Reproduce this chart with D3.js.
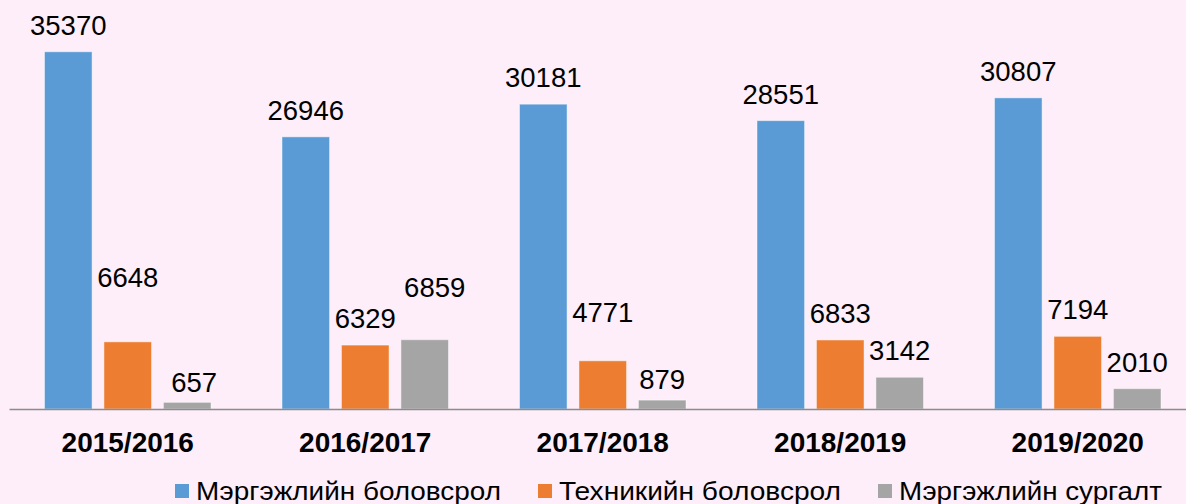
<!DOCTYPE html>
<html>
<head>
<meta charset="utf-8">
<script src="https://cdn.jsdelivr.net/npm/d3@7"></script>
<style>
  html, body { margin: 0; padding: 0; background: #fdeef9; }
  svg { display: block; }
</style>
</head>
<body>
<div id="chart"></div>
<script>
const years = ["2015/2016", "2016/2017", "2017/2018", "2018/2019", "2019/2020"];
const seriesNames = ["Мэргэжлийн боловсрол", "Техникийн боловсрол", "Мэргэжлийн сургалт"];
const mergejliinBolovsrol = [35370, 26946, 30181, 28551, 30807];
const tekhnikiinBolovsrol = [6648, 6329, 4771, 6833, 7194];
const mergejliinSurgalt = [657, 6859, 879, 3142, 2010];
const colors = ["#5b9bd5", "#ed7d31", "#a5a5a5"];

// labels were nudged by hand in the original (extra lift / sideways shift, px)
const labelLift = [
  [0, 0, 0, 0, 0],
  [38, 0, 22, 0, 0],
  [-7, 26, -6, 0, 0]
];
const labelShift = [
  [0, 0, 0, 0, 0],
  [0, 0, 0, 0, 0],
  [7, 10, 0, 0, 0]
];

const width = 1186, height = 504;
const baseY = 409;
const font = "'Liberation Sans', Arial, sans-serif";

const values = [mergejliinBolovsrol, tekhnikiinBolovsrol, mergejliinSurgalt];
const rows = [];
years.forEach((yr, i) => {
  seriesNames.forEach((s, j) => rows.push({ yr, s, j, i, v: values[j][i] }));
});

const svg = d3.select("#chart").append("svg")
  .attr("width", width).attr("height", height);

svg.append("rect").attr("width", width).attr("height", height).attr("fill", "#fdeef9");

const x0 = d3.scaleBand().domain(years).range([9, 1196.5]).padding(0);
const x1 = d3.scaleBand().domain(seriesNames).range([35.5, 202]).paddingInner(0.2);
const y = d3.scaleLinear().domain([0, 40000]).range([baseY, 5]);

const g = svg.append("g");

g.selectAll(".bar")
  .data(rows)
  .join("rect")
  .attr("class", "bar")
  .attr("x", d => x0(d.yr) + x1(d.s))
  .attr("y", d => y(d.v))
  .attr("width", x1.bandwidth())
  .attr("height", d => baseY - y(d.v))
  .attr("fill", d => colors[d.j])
  .attr("stroke", "rgba(255,255,255,0.45)")
  .attr("stroke-width", 1);

g.selectAll(".val")
  .data(rows)
  .join("text")
  .attr("class", "val")
  .attr("x", d => x0(d.yr) + x1(d.s) + x1.bandwidth() / 2 + labelShift[d.j][d.i])
  .attr("y", d => y(d.v) - 17 - labelLift[d.j][d.i])
  .attr("text-anchor", "middle")
  .attr("font-family", font)
  .attr("font-size", 27.5)
  .attr("fill", "#000")
  .text(d => d.v);

// baseline axis
const xAxis = d3.axisBottom(x0).tickSize(0).tickPadding(0);
const ax = svg.append("g").attr("transform", `translate(0,${baseY})`).call(xAxis);
ax.select(".domain").attr("stroke", "#8c8c8c").attr("stroke-width", 1.3);
ax.selectAll(".tick text")
  .attr("dy", null)
  .attr("y", 43)
  .attr("font-family", font)
  .attr("font-weight", "bold")
  .attr("font-size", 28)
  .attr("fill", "#000");

// legend
const legendX = [175, 538, 878];
const legendW = [305, 282, 263];
const leg = svg.append("g").selectAll("g")
  .data(seriesNames)
  .join("g")
  .attr("transform", (d, i) => `translate(${legendX[i]},484)`);
leg.append("rect").attr("width", 14).attr("height", 14).attr("fill", (d, i) => colors[i]);
leg.append("text")
  .attr("x", 21)
  .attr("y", 16)
  .attr("font-family", font)
  .attr("font-size", 26)
  .attr("textLength", (d, i) => legendW[i])
  .attr("lengthAdjust", "spacingAndGlyphs")
  .attr("fill", "#000")
  .text(d => d);
</script>
</body>
</html>
